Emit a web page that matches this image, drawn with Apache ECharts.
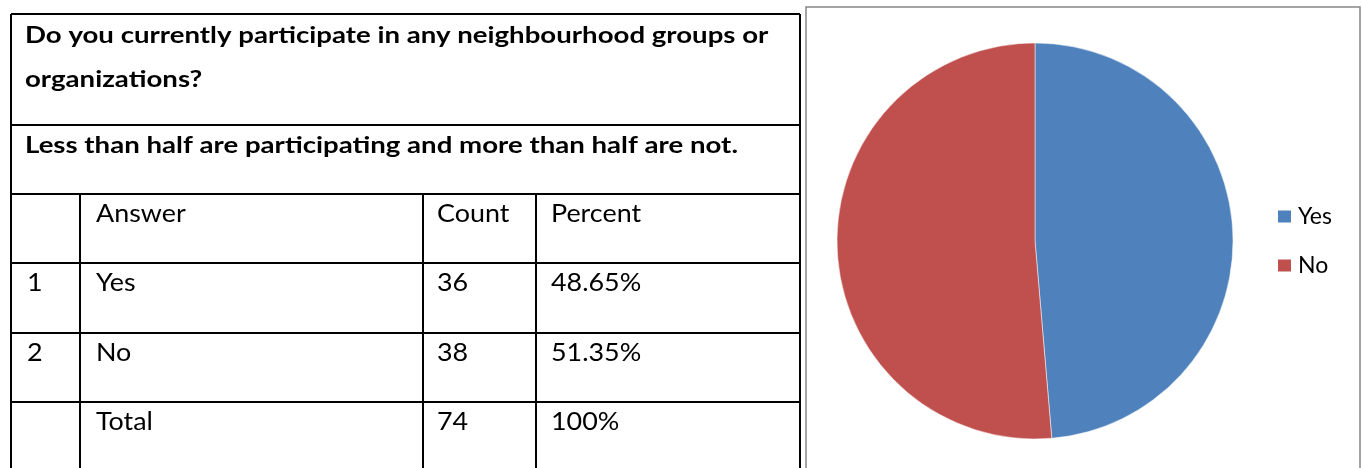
<!DOCTYPE html>
<html>
<head>
<meta charset="utf-8">
<script src="https://cdn.jsdelivr.net/npm/echarts@6/dist/echarts.min.js"></script>
<style>
    html, body { margin: 0; padding: 0; background: #fff; }
    #main { width: 1362px; height: 468px; }
</style>
</head>
<body>
<div id="main"></div>
<script>
    // survey data
    var questionLines = ["Do you currently participate in any neighbourhood groups or", "organizations?"];
    var summaryText = "Less than half are participating and more than half are not.";
    var headers = ["", "Answer", "Count", "Percent"];
    var rowNums = ["1", "2", ""];
    var answers = ["Yes", "No", "Total"];
    var counts = [36, 38, 74];
    var percents = ["48.65%", "51.35%", "100%"];
    var pieNames = ["Yes", "No"];
    var pieValues = [36, 38];

    var chart = echarts.init(document.getElementById("main"));

    // table layout
    var colX = [11, 80, 423, 536, 800];
    var rowY = [194, 263, 333, 402, 472];
    var font = "Lato, 'Open Sans', sans-serif";
    var lineColor = "#000";
    var graphics = [];

    function hLine(x1, x2, y) {
        graphics.push({ type: "line", shape: { x1: x1, y1: y, x2: x2, y2: y }, style: { stroke: lineColor, lineWidth: 2 } });
    }
    function vLine(x, y1, y2) {
        graphics.push({ type: "line", shape: { x1: x, y1: y1, x2: x, y2: y2 }, style: { stroke: lineColor, lineWidth: 2 } });
    }
    function txt(x, y, s, bold) {
        graphics.push({
            type: "text", x: x, y: y,
            scaleX: bold ? 1.255 : 1.075,
            style: {
                text: s, fill: "#000",
                font: (bold ? "bold 22px " : "25px ") + font,
                textVerticalAlign: "middle"
            }
        });
    }

    hLine(colX[0], colX[4], 14);
    hLine(colX[0], colX[4], 125);
    rowY.forEach(function (y) { hLine(colX[0], colX[4], y); });
    vLine(colX[0], 14, 472);
    vLine(colX[4], 14, 472);
    for (var c = 1; c < 4; c++) vLine(colX[c], rowY[0], 472);

    txt(25, 36, questionLines[0], true);
    txt(25, 80, questionLines[1], true);
    txt(25, 146, summaryText, true);

    var padX = [16, 16, 14, 15];
    headers.forEach(function (h, i) { txt(colX[i] + padX[i], 214, h, false); });
    for (var r = 0; r < answers.length; r++) {
        var y = rowY[r + 1] + 20;
        var cells = [rowNums[r], answers[r], String(counts[r]), percents[r]];
        cells.forEach(function (s, i) { txt(colX[i] + padX[i], y, s, false); });
    }

    // chart frame
    graphics.push({ type: "rect", shape: { x: 806, y: 7, width: 554, height: 470 }, style: { fill: "none", stroke: "#868686", lineWidth: 1.5 } });

    var option = {
        animation: false,
        color: ["#4F81BD", "#C0504D"],
        graphic: graphics,
        legend: {
            orient: "vertical",
            left: 1276,
            top: 205,
            padding: 0,
            itemWidth: 15,
            itemHeight: 14,
            itemGap: 26,
            icon: "rect",
            textStyle: { fontSize: 23, fontFamily: font, color: "#000", padding: [0, 0, 0, 1] },
            data: pieNames
        },
        series: [{
            type: "pie",
            center: [1035, 241],
            radius: 198,
            startAngle: 90,
            clockwise: true,
            label: { show: false },
            labelLine: { show: false },
            itemStyle: { borderColor: "#fff", borderWidth: 0.5 },
            emphasis: { disabled: true },
            data: pieNames.map(function (n, i) { return { name: n, value: pieValues[i] }; })
        }]
    };

    chart.setOption(option);
</script>
</body>
</html>
